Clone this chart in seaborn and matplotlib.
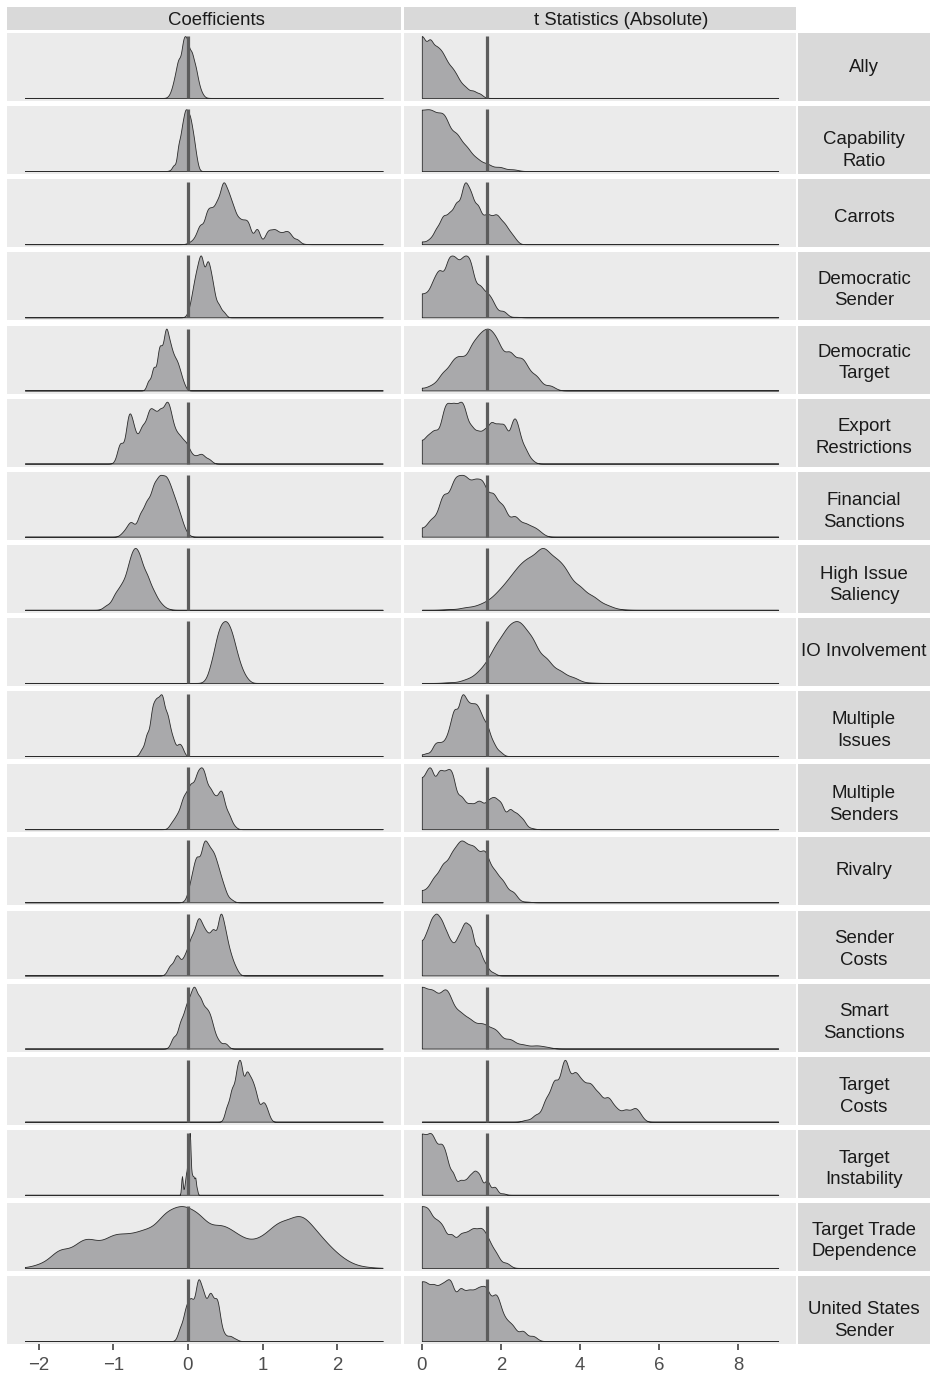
import numpy as np
import matplotlib
matplotlib.use("Agg")
import matplotlib.pyplot as plt
import seaborn as sns

# ---------------- data ----------------
VARIABLES = ["Ally", "Capability Ratio", "Carrots", "Democratic Sender", "Democratic Target",
             "Export Restrictions", "Financial Sanctions", "High Issue Saliency", "IO Involvement",
             "Multiple Issues", "Multiple Senders", "Rivalry", "Sender Costs", "Smart Sanctions",
             "Target Costs", "Target Instability", "Target Trade Dependence", "United States Sender"]
STRIP_LABELS = ["Ally", "Capability\nRatio", "Carrots", "Democratic\nSender", "Democratic\nTarget",
                "Export\nRestrictions", "Financial\nSanctions", "High Issue\nSaliency", "IO Involvement",
                "Multiple\nIssues", "Multiple\nSenders", "Rivalry", "Sender\nCosts", "Smart\nSanctions",
                "Target\nCosts", "Target\nInstability", "Target Trade\nDependence", "United States\nSender"]
COLUMN_TITLES = ["Coefficients", "t Statistics (Absolute)"]
REFERENCE_LINES = [0.0, 1.65]
COEF_TICKS = [-2, -1, 0, 1, 2]
T_TICKS = [0, 2, 4, 6, 8]
COEF_RANGE = [-2.185, 2.61]
T_RANGE = [0.0, 9.01]

# coefficient densities: positions and relative heights
coef_ally_x = [-0.27, -0.25, -0.21, -0.17, -0.125, -0.07, -0.035, 0.0, 0.05, 0.10, 0.145, 0.19, 0.24]
coef_ally_h = [0.0, 0.05, 0.17, 0.39, 0.67, 0.9, 0.96, 0.9, 0.78, 0.55, 0.23, 0.07, 0.01]
coef_cap_x = [-0.24, -0.19, -0.125, -0.08, -0.045, -0.02, 0.01, 0.04, 0.075, 0.11, 0.14]
coef_cap_h = [0.02, 0.09, 0.39, 0.72, 0.96, 1.0, 0.95, 0.85, 0.61, 0.28, 0.06]
coef_carrots_x = [0.0, 0.03, 0.098, 0.165, 0.255, 0.32, 0.39, 0.456, 0.487, 0.545, 0.61, 0.68, 0.746,
                  0.81, 0.925, 1.06, 1.11, 1.17, 1.24, 1.31, 1.37, 1.46, 1.55]
coef_carrots_h = [0.01, 0.05, 0.11, 0.33, 0.52, 0.56, 0.71, 0.93, 0.97, 0.87, 0.6, 0.41, 0.38,
                  0.30, 0.19, 0.15, 0.21, 0.26, 0.18, 0.22, 0.16, 0.08, 0.01]
coef_demsend_x = [-0.045, 0.01, 0.054, 0.098, 0.143, 0.188, 0.255, 0.3, 0.344, 0.41, 0.478, 0.56]
coef_demsend_h = [0.0, 0.08, 0.38, 0.7, 0.9, 0.98, 0.92, 0.76, 0.43, 0.21, 0.08, 0.0]
coef_demtarg_x = [-0.6, -0.527, -0.46, -0.393, -0.357, -0.313, -0.281, -0.237, -0.192, -0.147, -0.103, -0.058, -0.022]
coef_demtarg_h = [0.0, 0.13, 0.32, 0.56, 0.59, 0.78, 0.97, 0.7, 0.51, 0.45, 0.29, 0.13, 0.02]
coef_export_x = [-0.996, -0.907, -0.795, -0.728, -0.648, -0.594, -0.518, -0.447, -0.371, -0.295, -0.237,
                 -0.17, -0.103, -0.036, 0.0, 0.054, 0.12, 0.188, 0.277, 0.38]
coef_export_h = [0.0, 0.31, 0.74, 0.56, 0.43, 0.61, 0.89, 0.8, 0.86, 0.98, 0.86,
                 0.5, 0.45, 0.37, 0.25, 0.13, 0.12, 0.16, 0.07, 0.0]
coef_fin_x = [-0.93, -0.862, -0.795, -0.75, -0.639, -0.55, -0.46, -0.38, -0.304, -0.237, -0.17, -0.103, -0.036, 0.0]
coef_fin_h = [0.0, 0.09, 0.19, 0.21, 0.33, 0.55, 0.8, 0.96, 0.96, 0.8, 0.58, 0.36, 0.11, 0.02]
coef_issue_x = [-1.175, -1.086, -0.974, -0.885, -0.795, -0.728, -0.706, -0.639, -0.55, -0.46, -0.371, -0.28, -0.19]
coef_issue_h = [0.0, 0.08, 0.25, 0.41, 0.74, 0.95, 0.97, 0.87, 0.57, 0.3, 0.11, 0.02, 0.0]
coef_io_x = [0.165, 0.255, 0.32, 0.39, 0.456, 0.523, 0.59, 0.657, 0.724, 0.79, 0.858]
coef_io_h = [0.0, 0.05, 0.35, 0.73, 0.93, 0.96, 0.79, 0.46, 0.21, 0.07, 0.0]
coef_missues_x = [-0.693, -0.617, -0.55, -0.483, -0.438, -0.405, -0.371, -0.335, -0.281, -0.237, -0.192, -0.125, -0.08, -0.022]
coef_missues_h = [0.0, 0.1, 0.34, 0.73, 0.89, 0.87, 0.92, 0.97, 0.73, 0.4, 0.23, 0.19, 0.15, 0.0]
coef_msend_x = [-0.28, -0.214, -0.147, -0.08, -0.036, 0.01, 0.054, 0.12, 0.179, 0.232, 0.3, 0.366, 0.433, 0.478, 0.545, 0.612, 0.657]
coef_msend_h = [0.0, 0.12, 0.23, 0.45, 0.53, 0.62, 0.72, 0.89, 0.98, 0.8, 0.64, 0.48, 0.67, 0.42, 0.26, 0.07, 0.0]
coef_rival_x = [-0.058, 0.009, 0.054, 0.12, 0.21, 0.277, 0.344, 0.41, 0.478, 0.567, 0.634]
coef_rival_h = [0.0, 0.11, 0.5, 0.77, 0.97, 0.88, 0.83, 0.55, 0.25, 0.06, 0.0]
coef_scost_x = [-0.304, -0.237, -0.147, -0.058, 0.0, 0.054, 0.12, 0.165, 0.219, 0.277, 0.344, 0.433, 0.5, 0.567, 0.634, 0.724]
coef_scost_h = [0.0, 0.17, 0.31, 0.24, 0.4, 0.64, 0.86, 0.83, 0.72, 0.58, 0.69, 0.97, 0.69, 0.34, 0.12, 0.0]
coef_smart_x = [-0.28, -0.192, -0.103, -0.036, 0.01, 0.054, 0.098, 0.165, 0.232, 0.29, 0.344, 0.41, 0.5, 0.567]
coef_smart_h = [0.0, 0.17, 0.39, 0.61, 0.73, 0.85, 0.98, 0.8, 0.61, 0.58, 0.28, 0.11, 0.09, 0.0]
coef_tcost_x = [0.433, 0.523, 0.59, 0.657, 0.71, 0.782, 0.835, 0.88, 0.925, 0.992, 1.037, 1.08, 1.11]
coef_tcost_h = [0.0, 0.22, 0.55, 0.87, 0.97, 0.82, 0.74, 0.63, 0.38, 0.30, 0.33, 0.16, 0.0]
coef_instab_x = [-0.11, -0.08, -0.058, -0.04, -0.022, 0.0, 0.018, 0.031, 0.054, 0.075, 0.098, 0.12, 0.134]
coef_instab_h = [0.0, 0.3, 0.05, 0.2, 0.38, 0.7, 1.0, 0.87, 0.32, 0.3, 0.3, 0.12, 0.0]
coef_trade_x = [-2.18, -1.957, -1.711, -1.443, -1.265, -1.041, -0.88, -0.728, -0.55, -0.326, -0.147, -0.013,
                0.165, 0.389, 0.545, 0.7, 0.88, 1.06, 1.24, 1.44, 1.595, 1.77, 1.95, 2.13, 2.355, 2.6]
coef_trade_h = [0.01, 0.07, 0.32, 0.43, 0.44, 0.54, 0.53, 0.54, 0.64, 0.92, 0.97, 0.97,
                0.89, 0.7, 0.64, 0.51, 0.43, 0.56, 0.81, 0.87, 0.81, 0.54, 0.29, 0.1, 0.02, 0.0]
coef_us_x = [-0.192, -0.103, -0.036, 0.01, 0.054, 0.12, 0.156, 0.21, 0.277, 0.322, 0.38, 0.411, 0.456, 0.5, 0.567, 0.634, 0.7]
coef_us_h = [0.0, 0.2, 0.53, 0.62, 0.69, 0.91, 0.97, 0.8, 0.72, 0.74, 0.78, 0.58, 0.15, 0.09, 0.09, 0.04, 0.0]

# absolute t statistic densities
t_ally_x = [0.0, 0.05, 0.16, 0.244, 0.37, 0.496, 0.62, 0.75, 0.874, 1.0, 1.126, 1.294, 1.46, 1.647]
t_ally_h = [0.94, 0.97, 0.91, 0.94, 0.86, 0.78, 0.61, 0.51, 0.39, 0.23, 0.16, 0.12, 0.07, 0.0]
t_cap_x = [0.0, 0.076, 0.18, 0.286, 0.454, 0.622, 0.874, 1.126, 1.378, 1.647, 1.966, 2.3, 2.8]
t_cap_h = [0.92, 0.96, 0.97, 0.98, 0.93, 0.83, 0.61, 0.39, 0.2, 0.11, 0.06, 0.02, 0.0]
t_carrots_x = [0.0, 0.2, 0.37, 0.538, 0.706, 0.874, 1.042, 1.126, 1.252, 1.42, 1.588, 1.714, 1.857, 1.966,
               2.09, 2.22, 2.34, 2.6]
t_carrots_h = [0.04, 0.08, 0.27, 0.49, 0.52, 0.71, 0.94, 0.97, 0.87, 0.66, 0.46, 0.49, 0.54, 0.41,
               0.38, 0.22, 0.08, 0.0]
t_demsend_x = [0.0, 0.118, 0.286, 0.454, 0.664, 0.832, 1.0, 1.126, 1.252, 1.462, 1.647, 1.8, 2.05, 2.39]
t_demsend_h = [0.32, 0.38, 0.6, 0.76, 0.92, 0.98, 0.92, 0.95, 0.82, 0.51, 0.4, 0.21, 0.08, 0.01]
t_demtarg_x = [0.0, 0.118, 0.286, 0.538, 0.79, 1.0, 1.252, 1.462, 1.647, 1.8, 1.966, 2.22, 2.47, 2.64, 2.89, 3.23, 3.56]
t_demtarg_h = [0.02, 0.04, 0.1, 0.29, 0.48, 0.51, 0.7, 0.89, 1.0, 0.86, 0.67, 0.62, 0.51, 0.37, 0.21, 0.07, 0.0]
t_export_x = [0.0, 0.118, 0.25, 0.37, 0.538, 0.664, 0.81, 0.958, 1.084, 1.252, 1.42, 1.588, 1.756, 1.924,
              2.09, 2.3, 2.43, 2.6, 2.76, 2.9]
t_export_h = [0.26, 0.48, 0.49, 0.5, 0.8, 0.96, 0.97, 0.96, 0.86, 0.58, 0.5, 0.53, 0.67, 0.61,
              0.58, 0.67, 0.58, 0.26, 0.07, 0.0]
t_fin_x = [0.0, 0.16, 0.286, 0.538, 0.79, 0.96, 1.126, 1.336, 1.546, 1.8, 2.05, 2.345, 2.6, 2.81, 2.97, 3.18]
t_fin_h = [0.09, 0.2, 0.31, 0.69, 0.88, 0.94, 0.97, 0.93, 0.88, 0.69, 0.47, 0.32, 0.22, 0.17, 0.09, 0.0]
t_issue_x = [0.3, 0.706, 1.126, 1.462, 1.714, 1.966, 2.22, 2.47, 2.72, 2.97, 3.14, 3.39, 3.65, 3.98,
             4.32, 4.66, 4.99, 5.3]
t_issue_h = [0.0, 0.01, 0.04, 0.08, 0.16, 0.33, 0.52, 0.74, 0.87, 0.96, 0.97, 0.85, 0.63, 0.38,
             0.22, 0.08, 0.01, 0.0]
t_io_x = [0.3, 0.706, 1.126, 1.42, 1.647, 1.88, 2.13, 2.345, 2.55, 2.81, 3.14, 3.48, 3.82, 4.24]
t_io_h = [0.0, 0.01, 0.05, 0.16, 0.32, 0.65, 0.87, 0.97, 0.92, 0.68, 0.38, 0.19, 0.08, 0.01]
t_missues_x = [0.0, 0.118, 0.328, 0.454, 0.58, 0.706, 0.832, 1.0, 1.126, 1.252, 1.378, 1.504, 1.647, 1.8, 1.966, 2.15]
t_missues_h = [0.0, 0.05, 0.18, 0.21, 0.23, 0.45, 0.78, 0.97, 0.86, 0.81, 0.85, 0.64, 0.51, 0.21, 0.07, 0.0]
t_msend_x = [0.0, 0.118, 0.244, 0.412, 0.538, 0.664, 0.79, 0.958, 1.084, 1.23, 1.378, 1.5, 1.647, 1.76, 1.866,
             2.01, 2.22, 2.39, 2.55, 2.76, 2.9]
t_msend_h = [0.72, 0.94, 0.98, 0.91, 0.89, 0.97, 0.86, 0.53, 0.42, 0.42, 0.43, 0.44, 0.45, 0.48, 0.51,
             0.39, 0.31, 0.26, 0.15, 0.02, 0.0]
t_rival_x = [0.0, 0.16, 0.328, 0.538, 0.748, 0.916, 1.02, 1.126, 1.25, 1.378, 1.546, 1.647, 1.84, 2.05, 2.3,
             2.64, 2.9]
t_rival_h = [0.17, 0.22, 0.44, 0.63, 0.8, 0.96, 0.95, 0.93, 0.9, 0.88, 0.83, 0.72, 0.52, 0.33, 0.14,
             0.01, 0.0]
t_scost_x = [0.0, 0.118, 0.244, 0.37, 0.496, 0.622, 0.748, 0.874, 0.958, 1.042, 1.126, 1.252, 1.42, 1.546,
             1.647, 1.8, 2.0]
t_scost_h = [0.45, 0.67, 0.89, 0.97, 0.86, 0.67, 0.5, 0.53, 0.61, 0.75, 0.83, 0.72, 0.45, 0.23,
             0.12, 0.04, 0.0]
t_smart_x = [0.0, 0.076, 0.286, 0.538, 0.706, 0.958, 1.21, 1.462, 1.647, 1.88, 2.22, 2.55, 2.89, 3.14, 3.4]
t_smart_h = [0.72, 0.92, 0.98, 0.91, 0.8, 0.58, 0.47, 0.39, 0.34, 0.28, 0.14, 0.06, 0.05, 0.03, 0.0]
t_tcost_x = [2.43, 2.64, 2.89, 3.14, 3.35, 3.56, 3.66, 3.86, 4.03, 4.19, 4.32, 4.49, 4.7, 4.87, 4.99,
             5.16, 5.37, 5.5, 5.66]
t_tcost_h = [0.0, 0.03, 0.11, 0.36, 0.71, 0.87, 0.97, 0.86, 0.71, 0.63, 0.6, 0.46, 0.44, 0.27, 0.14,
             0.22, 0.25, 0.16, 0.0]
t_instab_x = [0.0, 0.076, 0.16, 0.244, 0.328, 0.412, 0.496, 0.58, 0.664, 0.79, 0.958, 1.084, 1.21, 1.336,
              1.462, 1.647, 1.84, 2.05, 2.2]
t_instab_h = [0.92, 0.9, 0.92, 0.98, 0.82, 0.7, 0.84, 0.7, 0.43, 0.32, 0.21, 0.21, 0.3, 0.38,
              0.27, 0.19, 0.1, 0.02, 0.0]
t_trade_x = [0.0, 0.076, 0.2, 0.37, 0.538, 0.748, 0.958, 1.126, 1.294, 1.462, 1.588, 1.714, 1.88, 2.13, 2.4]
t_trade_h = [0.75, 0.97, 0.92, 0.75, 0.62, 0.51, 0.51, 0.54, 0.64, 0.64, 0.56, 0.4, 0.21, 0.07, 0.0]
t_us_x = [0.0, 0.118, 0.286, 0.454, 0.6, 0.748, 0.958, 1.126, 1.25, 1.378, 1.5, 1.647, 1.84, 1.966, 2.13,
          2.3, 2.55, 2.81, 3.1]
t_us_h = [0.8, 0.98, 0.94, 0.89, 0.92, 0.95, 0.86, 0.78, 0.8, 0.83, 0.86, 0.87, 0.78, 0.58, 0.34,
          0.23, 0.15, 0.07, 0.0]

# kernel bandwidths (smoothing) per panel
COEF_BW = [0.028, 0.024, 0.04, 0.032, 0.028, 0.042, 0.045, 0.05, 0.045, 0.03, 0.038, 0.042,
           0.04, 0.038, 0.032, 0.01, 0.13, 0.035]
T_BW = [0.08, 0.13, 0.085, 0.1, 0.13, 0.09, 0.12, 0.17, 0.16, 0.08, 0.085, 0.11,
        0.075, 0.14, 0.1, 0.07, 0.1, 0.1]

COEF_X = [coef_ally_x, coef_cap_x, coef_carrots_x, coef_demsend_x, coef_demtarg_x, coef_export_x,
          coef_fin_x, coef_issue_x, coef_io_x, coef_missues_x, coef_msend_x, coef_rival_x,
          coef_scost_x, coef_smart_x, coef_tcost_x, coef_instab_x, coef_trade_x, coef_us_x]
COEF_H = [coef_ally_h, coef_cap_h, coef_carrots_h, coef_demsend_h, coef_demtarg_h, coef_export_h,
          coef_fin_h, coef_issue_h, coef_io_h, coef_missues_h, coef_msend_h, coef_rival_h,
          coef_scost_h, coef_smart_h, coef_tcost_h, coef_instab_h, coef_trade_h, coef_us_h]
T_X = [t_ally_x, t_cap_x, t_carrots_x, t_demsend_x, t_demtarg_x, t_export_x, t_fin_x, t_issue_x,
       t_io_x, t_missues_x, t_msend_x, t_rival_x, t_scost_x, t_smart_x, t_tcost_x, t_instab_x,
       t_trade_x, t_us_x]
T_H = [t_ally_h, t_cap_h, t_carrots_h, t_demsend_h, t_demtarg_h, t_export_h, t_fin_h, t_issue_h,
       t_io_h, t_missues_h, t_msend_h, t_rival_h, t_scost_h, t_smart_h, t_tcost_h, t_instab_h,
       t_trade_h, t_us_h]

# ---------------- style / layout ----------------
sns.set_theme(style="white")
plt.rcParams['font.family'] = ['Liberation Sans', 'DejaVu Sans']

W, H = 930, 1373
PANEL_BG = "#EBEBEB"
STRIP_BG = "#D9D9D9"
FILL = "#A9A9AB"
EDGE = "#2B2B2B"
VLINE = "#5C5C5C"
TEXT = "#1A1A1A"
STRIP_FS = 13.4
TICK_FS = 13.4

COL_X = [(7, 400.5), (404, 796)]
TITLE_CENTER_PX = [216.5, 621.5]
STRIP_X = (798, 930)
ROW_TOP0 = 33.0
ROW_PITCH = 73.125
ROW_H = 68.0
LINE_PITCH = 21.7
# vertical nudge (px, positive = down) of each right-strip label, as placed in the reference
STRIP_NUDGE = [-4, 0, 0, -7, -7, -5.5, -5, -4.5, -5, -5.5, -4.5, -5.5, -5.5, -6, -5, -5.5, -6.5, 0]

fig = plt.figure(figsize=(W / 100, H / 100), dpi=100)
fig.patch.set_facecolor("white")


def box(x0, y0, x1, y1):
    return [x0 / W, 1 - y1 / H, (x1 - x0) / W, (y1 - y0) / H]


def expand(r):
    span = r[1] - r[0]
    return (r[0] - 0.05 * span, r[1] + 0.05 * span)


def draw_density(ax, xs, hs, bw, rng, mirror):
    xs = np.asarray(xs, float)
    hs = np.asarray(hs, float)
    w = hs * np.gradient(xs)
    w[0] *= 0.5
    w[-1] *= 0.5
    if mirror:
        xs = np.concatenate([xs, -xs])
        w = np.concatenate([w, w])
    w = np.clip(w, 1e-7, None)
    sd = float(np.sqrt(np.cov(xs, aweights=w)))
    sns.kdeplot(x=xs, weights=w, bw_method=bw / sd, clip=tuple(rng), cut=1000, gridsize=700,
                fill=True, color=FILL, alpha=1, edgecolor=EDGE, linewidth=0.6, ax=ax)
    coll = ax.collections[-1]
    return max(p.vertices[:, 1].max() for p in coll.get_paths())


def strip_axes(x0, y0, x1, y1):
    sax = fig.add_axes(box(x0, y0, x1, y1))
    sax.set_facecolor(STRIP_BG)
    sax.set_xticks([]); sax.set_yticks([])
    for s in sax.spines.values():
        s.set_visible(False)
    return sax


# top strips
for c, title in enumerate(COLUMN_TITLES):
    x0, x1 = COL_X[c]
    sax = strip_axes(x0, 7, x1, 30)
    sax.text((TITLE_CENTER_PX[c] - x0) / (x1 - x0), 0.5 - 6.5 / 23.0, title, ha="center",
             va="baseline", fontsize=STRIP_FS, color=TEXT, transform=sax.transAxes)

for r, var in enumerate(VARIABLES):
    top = ROW_TOP0 + r * ROW_PITCH
    bot = top + ROW_H
    for c in range(2):
        x0, x1 = COL_X[c]
        ax = fig.add_axes(box(x0, top, x1, bot))
        ax.set_facecolor(PANEL_BG)
        if c == 0:
            peak = draw_density(ax, COEF_X[r], COEF_H[r], COEF_BW[r], COEF_RANGE, False)
            ax.set_xlim(*expand(COEF_RANGE))
            ticks = COEF_TICKS
        else:
            peak = draw_density(ax, T_X[r], T_H[r], T_BW[r], T_RANGE, True)
            ax.set_xlim(*expand(T_RANGE))
            ticks = T_TICKS
        ax.vlines(REFERENCE_LINES[c], 0, peak, color=VLINE, linewidth=2.3, zorder=5)
        ax.set_ylim(-0.05 * peak, 1.05 * peak)
        ax.set_xlabel(""); ax.set_ylabel("")
        ax.set_yticks([])
        for s in ax.spines.values():
            s.set_visible(False)
        ax.set_xticks(ticks)
        if r == len(VARIABLES) - 1:
            ax.set_xticklabels([f"{t:d}".replace("-", "\u2212") for t in ticks])
            ax.tick_params(axis="x", bottom=True, length=4.3, width=1.1, color="#333333",
                           labelsize=TICK_FS, labelcolor="#4D4D4D", pad=5.2)
        else:
            ax.tick_params(axis="x", bottom=False, labelbottom=False)
    # right strip (text lines placed by baseline)
    sax = strip_axes(STRIP_X[0], top, STRIP_X[1], bot)
    lines = STRIP_LABELS[r].split("\n")
    if len(lines) == 1:
        offsets = [9.2]
    else:
        offsets = [4.2, 4.2 + LINE_PITCH]
    for line, off in zip(lines, offsets):
        sax.text(0.5, 0.5 - (off + STRIP_NUDGE[r]) / ROW_H, line, ha="center", va="baseline",
                 fontsize=STRIP_FS, color=TEXT, transform=sax.transAxes)

fig.savefig("out.png", dpi=100, facecolor="white")
